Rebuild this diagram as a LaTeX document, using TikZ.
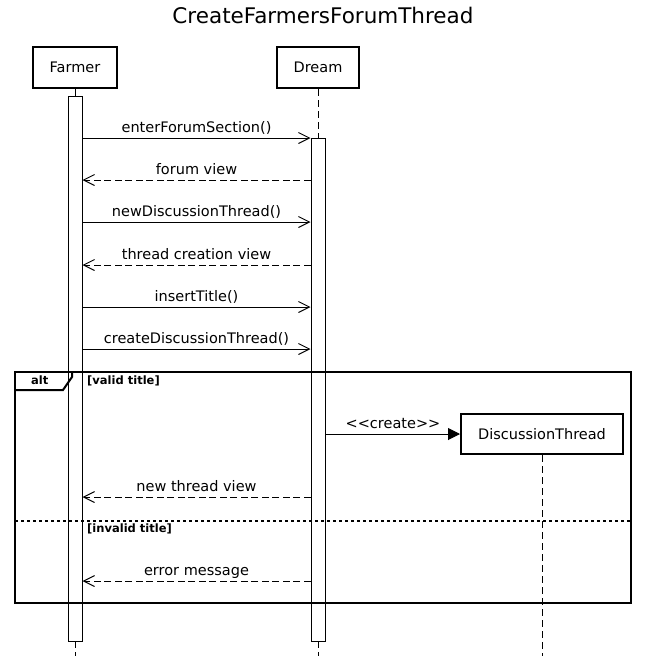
\documentclass[tikz,border=0pt]{standalone}
\usepackage{fontspec}
\setmainfont{DejaVu Sans}[Ligatures=TeXOff]
\usetikzlibrary{arrows.meta}
\begin{document}
\begin{tikzpicture}[x=1pt,y=-1pt,
  txt/.style={font=\fontsize{14.5}{17}\selectfont},
  actor/.style={draw, line width=2pt, minimum height=41pt, inner sep=0pt, txt},
  act/.style={draw, fill=white, line width=1pt, minimum width=14pt, inner sep=0pt},
  lifeline/.style={line width=1pt, dash pattern=on 7pt off 4pt},
  msg/.style={line width=1pt, -{Straight Barb[length=11pt,width=11pt]}},
  ret/.style={msg, dash pattern=on 7pt off 3.5pt},
  createmsg/.style={line width=1pt, -{Triangle[length=12pt,width=12pt]}},
  lbl/.style={txt, anchor=base, inner sep=0pt},
  guard/.style={font=\fontsize{11.5}{13}\selectfont\bfseries, anchor=base west, inner sep=0pt},
  frame/.style={line width=2pt}
]
\useasboundingbox (0,0) rectangle (646,656);

\node[font=\fontsize{21.5}{25}\selectfont, anchor=base, inner sep=0pt] (title) at (323,23) {CreateFarmersForumThread};

\node[actor, minimum width=84pt] (farmer) at (75,67.5) {Farmer};
\node[actor, minimum width=82pt] (dream) at (318,67.5) {Dream};

\coordinate (fEnd) at (75,656);
\coordinate (dEnd) at (318,656);
\coordinate (tEnd) at (542,656);

\draw[line width=1pt] (farmer.south) -- (75,96);
\draw[lifeline] (dream.south) -- (318,138);
\draw[lifeline] (75,641) -- (fEnd);
\draw[lifeline] (318,641) -- (dEnd);

\node[act, minimum height=545pt] (actF) at (75,368.5) {};
\node[act, minimum height=503pt] (actD) at (318,389.5) {};

% messages
\draw[msg] (actF.east |- 0,138) -- (actD.west |- 0,138);
\node[lbl] (l1) at (196.5,132) {enterForumSection()};
\draw[ret] (actD.west |- 0,180) -- (actF.east |- 0,180);
\node[lbl] (l2) at (196.5,174) {forum view};
\draw[msg] (actF.east |- 0,222) -- (actD.west |- 0,222);
\node[lbl] (l3) at (196.5,216) {newDiscussionThread()};
\draw[ret] (actD.west |- 0,265) -- (actF.east |- 0,265);
\node[lbl] (l4) at (196.5,259) {thread creation view};
\draw[msg] (actF.east |- 0,307) -- (actD.west |- 0,307);
\node[lbl] (l5) at (196.5,301) {insertTitle()};
\draw[msg] (actF.east |- 0,349) -- (actD.west |- 0,349);
\node[lbl] (l6) at (196.5,343) {createDiscussionThread()};

% alt frame
\draw[frame] (15,372) rectangle (631,603);
\draw[frame] (15,390) -- (63,390) -- (72,377) -- (72,372);
\node[guard] (altlbl) at (31,384) {alt};
\node[guard] (g1) at (87,384) {[valid title]};

\node[actor, minimum width=162pt, minimum height=40pt] (dt) at (542,434) {DiscussionThread};
\draw[lifeline] (dt.south) -- (tEnd);
\draw[createmsg] (actD.east |- 0,434) -- (dt.west);
\node[lbl] (l7) at (393,428) {<\kern0pt<create>\kern0pt>};

\draw[ret] (actD.west |- 0,497) -- (actF.east |- 0,497);
\node[lbl] (l8) at (196.5,491) {new thread view};

\draw[line width=2pt, dash pattern=on 3pt off 3pt] (15,520.5) -- (631,520.5);
\node[guard] (g2) at (87,532) {[invalid title]};

\draw[ret] (actD.west |- 0,581) -- (actF.east |- 0,581);
\node[lbl] (l9) at (196.5,575) {error message};
\end{tikzpicture}
\end{document}
